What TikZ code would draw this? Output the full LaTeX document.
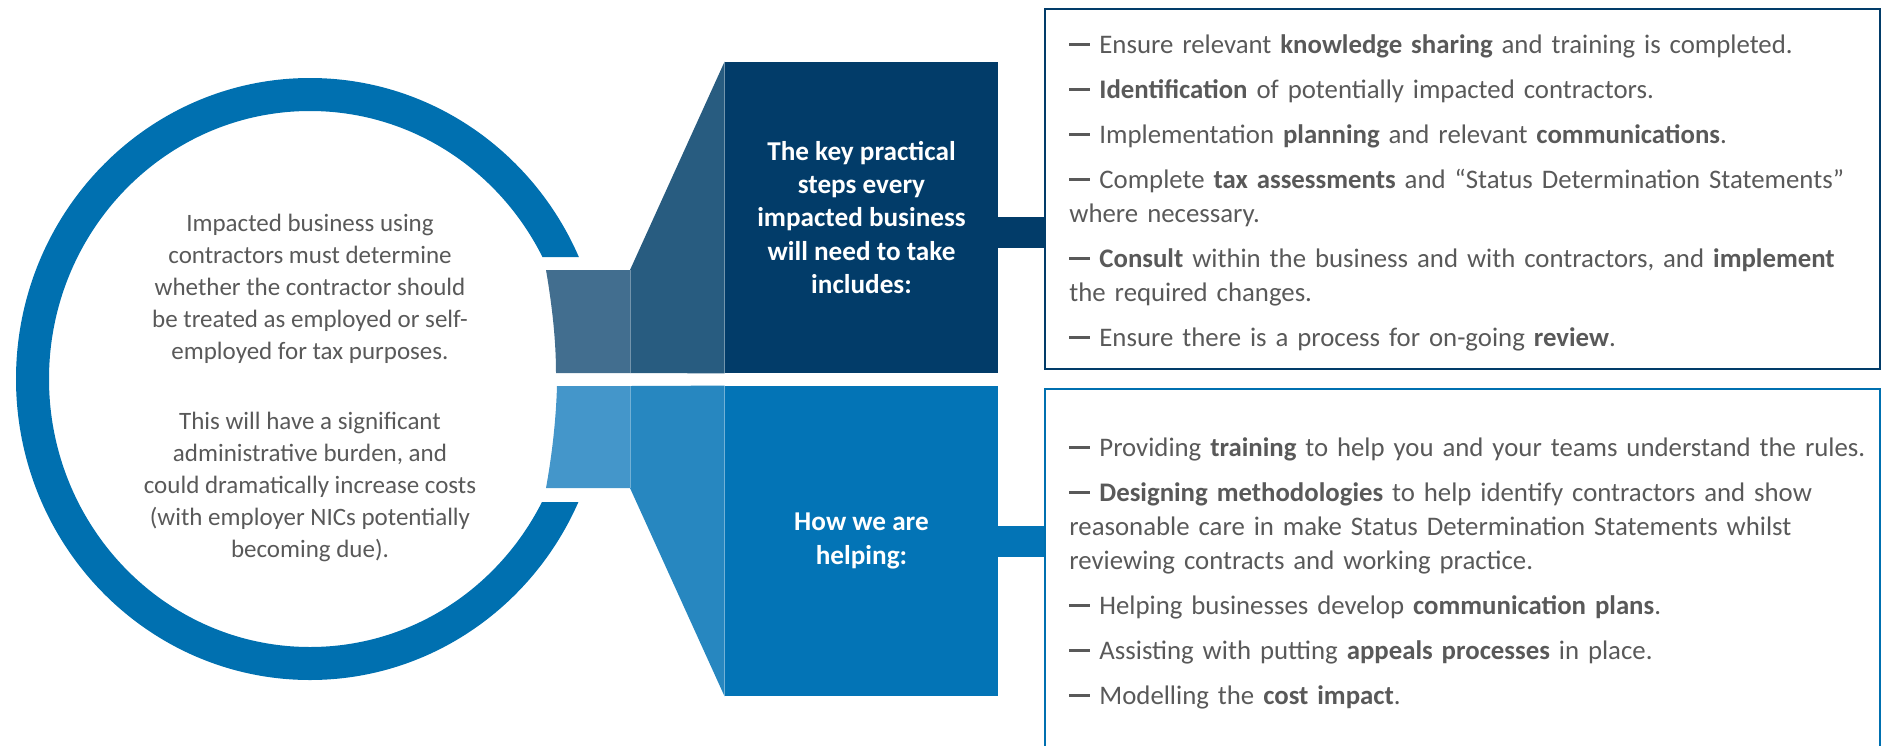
\documentclass[tikz,border=0pt]{standalone}
\usepackage{fontspec}
\setmainfont{Carlito}
\usetikzlibrary{positioning}

\definecolor{ringblue}{HTML}{0070B0}
\definecolor{navy}{HTML}{023C69}
\definecolor{navymid}{HTML}{285C80}
\definecolor{navylight}{HTML}{426E8F}
\definecolor{helpdark}{HTML}{0374B6}
\definecolor{helpmid}{HTML}{2787C0}
\definecolor{helplight}{HTML}{4496CA}
\definecolor{txtgray}{HTML}{595959}

\newcommand{\dashitem}[1]{\par\hangindent=15pt\hangafter=1\noindent\strut\makebox[15pt][l]{\rule[3.6pt]{10.5pt}{1.4pt}}#1}

\tikzset{
	headbox/.style={minimum width=136.5pt, minimum height=155.5pt, inner sep=0pt, text=white, align=center, font=\bfseries\fontsize{13.6}{16.65}\selectfont},
	listbox/.style={draw, line width=1.2pt, minimum width=417.5pt, anchor=north west, inner sep=0pt},
	listtext/.style={anchor=north west, text width=405pt, inner sep=0pt, align=left, text=txtgray, font=\fontsize{13.4}{17}\selectfont\setlength{\parskip}{5.5pt}},
}

\begin{document}
\begin{tikzpicture}[x=0.5pt,y=-0.5pt]
	\useasboundingbox (0,0) rectangle (1881,745);
	% ring, open on the right
	\begin{scope}
		\clip (0,0) rectangle (1881,257) (0,502) rectangle (1881,745) (0,256) rectangle (500,503);
		\draw[ringblue, line width=16.5pt] (310,379) ellipse [x radius=138.75pt, y radius=142.25pt];
	\end{scope}
	\node (context) [text=txtgray, align=center, font=\fontsize{12.5}{16}\selectfont] at (310,388)
		{Impacted business using\\contractors must determine\\whether the contractor should\\be treated as employed or self-\\employed for tax purposes.\\[19pt]
		 This will have a significant\\administrative burden, and\\could dramatically increase costs\\(with employer NICs potentially\\becoming due).};

	% the two headers
	\node (steps) [headbox, fill=navy] at (861.5,217.5) {The key practical\\steps every\\impacted business\\will need to take\\includes:};
	\node (helping) [headbox, fill=helpdark, minimum height=155pt] at (861.5,541) {How we are\\helping:};

	% funnels
	\fill[navylight] (546,270) .. controls (552,305) and (556,340) .. (556,373) -- (630,373) -- (630,270) -- cycle;
	\fill[navymid] (630,270) -- (steps.north west) -- (steps.south west) -- (630,373) -- cycle;
	\fill[helplight] (557,386) .. controls (556,420) and (552,455) .. (546,488) -- (630,488) -- (630,386) -- cycle;
	\fill[helpmid] (630,386) -- (helping.north west) -- (helping.south west) -- (630,488) -- cycle;
	\draw[white, opacity=0.35, line width=0.5pt] (630,270) -- (630,373) (630,386) -- (630,488);

	% lists
	\node (stepslist) [listbox, draw=navy, minimum height=180pt] at (1044,8) {};
	\node (helplist) [listbox, draw=ringblue, minimum height=190pt] at (1044,388) {};
	\fill[navy] (steps.east |- 0,217) rectangle (stepslist.west |- 0,248);
	\fill[helpdark] (helping.east |- 0,526) rectangle (helplist.west |- 0,557);

	\node (stepsitems) [listtext] at (1069,8) {%
		\dashitem{Ensure relevant \textbf{knowledge sharing} and training is completed.}
		\dashitem{\textbf{Identification} of potentially impacted contractors.}
		\dashitem{Implementation \textbf{planning} and relevant \textbf{communications}.}
		\dashitem{Complete \textbf{tax assessments} and “Status Determination Statements”\\ where necessary.}
		\dashitem{\textbf{Consult} within the business and with contractors, and \textbf{implement}\\ the required changes.}
		\dashitem{Ensure there is a process for on-going \textbf{review}.}};
	\node (helpitems) [listtext] at (1069,411) {%
		\dashitem{Providing \textbf{training} to help you and your teams understand the rules.}
		\dashitem{\textbf{Designing methodologies} to help identify contractors and show\\ reasonable care in make Status Determination Statements whilst\\ reviewing contracts and working practice.}
		\dashitem{Helping businesses develop \textbf{communication plans}.}
		\dashitem{Assisting with putting \textbf{appeals processes} in place.}
		\dashitem{Modelling the \textbf{cost impact}.}};
\end{tikzpicture}
\end{document}
